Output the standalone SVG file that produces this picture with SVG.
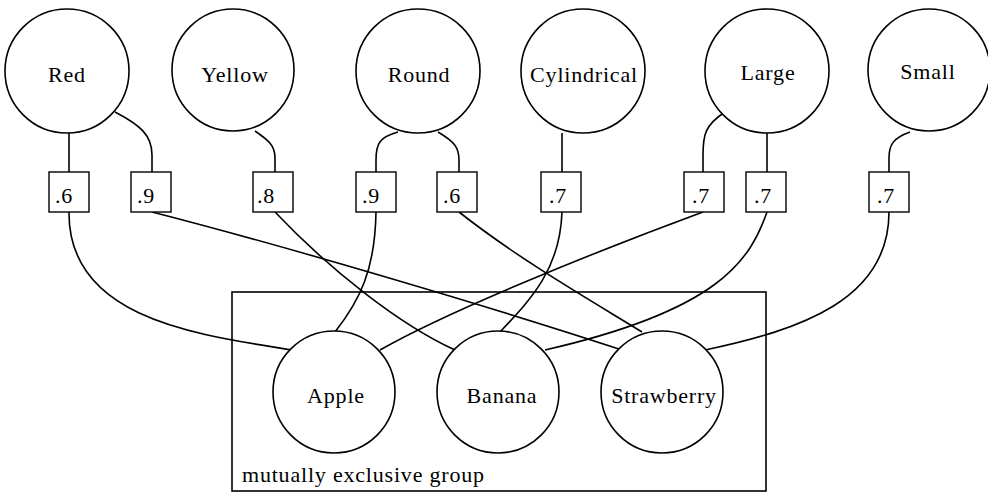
<svg xmlns="http://www.w3.org/2000/svg" width="988" height="493" viewBox="0 0 988 493">
<style>
.c{fill:#fff;stroke:#000;stroke-width:1.6}
.b{fill:#fff;stroke:#000;stroke-width:1.4}
.e{fill:none;stroke:#000;stroke-width:1.6}
text{font-family:"Liberation Serif","Times New Roman",serif;font-size:22px;letter-spacing:0.8px;fill:#000}
.l{text-anchor:middle}
.g{fill:none;stroke:#000;stroke-width:1.6}
</style>
<rect class="g" x="232" y="292" width="534" height="199"/>
<text x="242" y="482">mutually exclusive group</text>
<g id="connectors">
<path class="e" d="M69,133 L69,172"/>
<path class="e" d="M115,112 C140,125 152,135 152,155 L152,172"/>
<path class="e" d="M255,131 C268,140 275,145 275,158 L275,172"/>
<path class="e" d="M398,132 C380,137 376,143 376,160 L376,172"/>
<path class="e" d="M438,132 C455,142 459,148 459,160 L459,172"/>
<path class="e" d="M562,133 L562,172"/>
<path class="e" d="M725,112 C705,125 703,135 703,155 L703,172"/>
<path class="e" d="M767,132 L767,172"/>
<path class="e" d="M910,132 C893,138 889,145 889,158 L889,172"/>
<path class="e" d="M69,212 C68,320 200,335 292,350"/>
<path class="e" d="M152,212 C300,250 500,310 622,350"/>
<path class="e" d="M275,212 C330,270 400,325 455,350"/>
<path class="e" d="M376,212 C375,270 360,300 335,332"/>
<path class="e" d="M459,212 C520,260 590,300 642,332"/>
<path class="e" d="M562,212 C560,270 530,300 500,332"/>
<path class="e" d="M703,212 C600,250 450,310 380,350"/>
<path class="e" d="M767,212 C750,260 720,310 545,350"/>
<path class="e" d="M889,212 C889,300 800,330 705,350"/>
</g>
<g id="red"><circle class="c" cx="67" cy="71" r="62"/><text class="l" x="67" y="82">Red</text></g>
<g id="yellow"><circle class="c" cx="233" cy="70" r="61"/><text class="l" x="235" y="82">Yellow</text></g>
<g id="round"><circle class="c" cx="418" cy="71" r="62"/><text class="l" x="419" y="82">Round</text></g>
<g id="cylindrical"><circle class="c" cx="583" cy="71" r="62"/><text class="l" x="584" y="82">Cylindrical</text></g>
<g id="large"><circle class="c" cx="767" cy="71" r="62"/><text class="l" x="768" y="80">Large</text></g>
<g id="small"><circle class="c" cx="929" cy="70" r="61"/><text class="l" x="928" y="79">Small</text></g>
<g id="w1"><rect class="b" x="49" y="172" width="40" height="40"/><text x="55" y="203">.6</text></g>
<g id="w2"><rect class="b" x="131" y="172" width="40" height="40"/><text x="137" y="203">.9</text></g>
<g id="w3"><rect class="b" x="253" y="172" width="40" height="40"/><text x="257" y="203">.8</text></g>
<g id="w4"><rect class="b" x="356" y="172" width="40" height="40"/><text x="362" y="203">.9</text></g>
<g id="w5"><rect class="b" x="437" y="172" width="40" height="40"/><text x="443" y="203">.6</text></g>
<g id="w6"><rect class="b" x="541" y="172" width="40" height="40"/><text x="549" y="203">.7</text></g>
<g id="w7"><rect class="b" x="684" y="172" width="40" height="40"/><text x="692" y="203">.7</text></g>
<g id="w8"><rect class="b" x="746" y="172" width="40" height="40"/><text x="754" y="203">.7</text></g>
<g id="w9"><rect class="b" x="869" y="172" width="40" height="40"/><text x="877" y="203">.7</text></g>
<g id="apple"><circle class="c" cx="334" cy="392" r="61"/><text class="l" x="336" y="403">Apple</text></g>
<g id="banana"><circle class="c" cx="498" cy="392" r="61"/><text class="l" x="502" y="403">Banana</text></g>
<g id="strawberry"><circle class="c" cx="662" cy="392" r="61"/><text class="l" x="664" y="403">Strawberry</text></g>
</svg>
